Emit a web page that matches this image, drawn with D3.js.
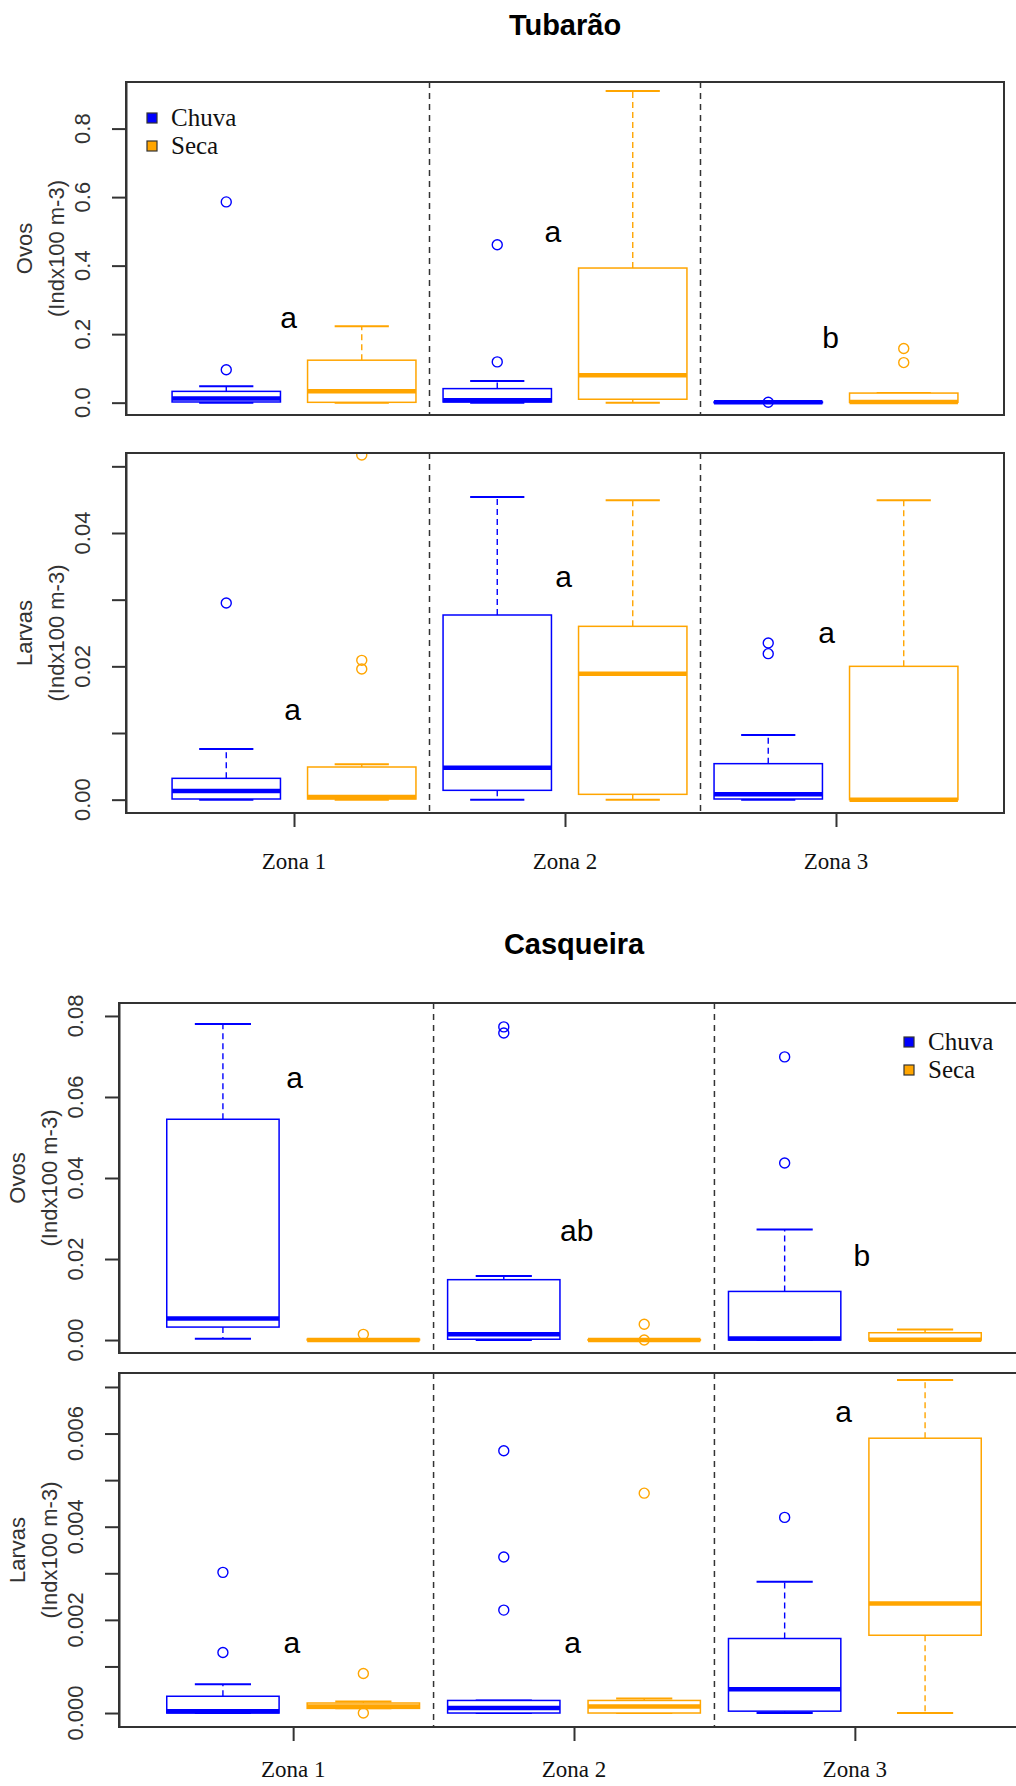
<!DOCTYPE html>
<html>
<head>
<meta charset="utf-8">
<script src="https://cdn.jsdelivr.net/npm/d3@7"></script>
<style>
  body { margin: 0; background: #fff; }
</style>
</head>
<body>
<div id="wrapper"></div>
<script>
// ---- data ----
const zones = ["Zona 1", "Zona 2", "Zona 3"]
const seasons = ["Chuva", "Seca"]
const sites = ["Tubarão", "Casqueira"]
const yTitles = [["Ovos", "(Indx100 m-3)"], ["Larvas", "(Indx100 m-3)"]]

// groups are Chuva Z1, Seca Z1, Chuva Z2, Seca Z2, Chuva Z3, Seca Z3
// each box: [lower whisker, q1, median, q3, upper whisker]
const tubOvosBoxes = [
  [0, 0.002, 0.012, 0.033, 0.048],
  [0, 0.001, 0.033, 0.124, 0.223],
  [0, 0.002, 0.007, 0.041, 0.063],
  [0, 0.010, 0.080, 0.393, 0.910],
  [0, 0, 0.001, 0.002, 0.003],
  [0, 0.001, 0.002, 0.028, 0.028],
]
const tubOvosOut = [[0.096, 0.586], [], [0.119, 0.461], [], [0.001], [0.117, 0.158]]

const tubLarvasBoxes = [
  [0, 0.0001, 0.0013, 0.0032, 0.0076],
  [0, 0.0001, 0.0004, 0.0049, 0.0053],
  [0, 0.0014, 0.0048, 0.0277, 0.0454],
  [0, 0.0008, 0.0189, 0.0260, 0.0449],
  [0, 0.0001, 0.0008, 0.0054, 0.0097],
  [0, 0, 0, 0.0200, 0.0449],
]
const tubLarvasOut = [[0.0295], [0.0196, 0.0209, 0.0517], [], [], [0.0219, 0.0235], []]

const casOvosBoxes = [
  [0.0003, 0.0032, 0.0053, 0.0545, 0.0780],
  [0, 0, 0, 0.0002, 0.0002],
  [0, 0.0002, 0.0014, 0.0149, 0.0158],
  [0, 0, 0, 0.0001, 0.0001],
  [0, 0, 0.0004, 0.0120, 0.0273],
  [0, 0, 0.0001, 0.0018, 0.0026],
]
const casOvosOut = [[], [0.0014], [0.0758, 0.0773], [0, 0.0039], [0.0437, 0.0699], []]

const casLarvasBoxes = [
  [0, 0, 0.00004, 0.00036, 0.00062],
  [0.0001, 0.0001, 0.00014, 0.000215, 0.00025],
  [0, 0, 0.00011, 0.00027, 0.00027],
  [0, 0, 0.00014, 0.00027, 0.00031],
  [0, 0.00004, 0.00051, 0.0016, 0.00282],
  [0, 0.00167, 0.00235, 0.0059, 0.00715],
]
const casLarvasOut = [[0.0013, 0.00302], [0, 0.00085], [0.00221, 0.00335, 0.00563], [0.00472], [0.0042], []]

// axis limits and ticks
const tubOvosLim = [-0.036, 0.936]
const tubLarvasLim = [-0.002, 0.052]
const casOvosLim = [-0.0032, 0.0832]
const casLarvasLim = [-0.0003, 0.0073]

const tubOvosTicks = [0, 0.2, 0.4, 0.6, 0.8]
const tubOvosTickLabels = [0, 0.2, 0.4, 0.6, 0.8]
const tubLarvasTicks = [0, 0.01, 0.02, 0.03, 0.04, 0.05]
const tubLarvasTickLabels = [0, 0.02, 0.04]
const casOvosTicks = [0, 0.02, 0.04, 0.06, 0.08]
const casOvosTickLabels = [0, 0.02, 0.04, 0.06, 0.08]
const casLarvasTicks = [0, 0.001, 0.002, 0.003, 0.004, 0.005, 0.006, 0.007]
const casLarvasTickLabels = [0, 0.002, 0.004, 0.006]

// significance letters: text, x (group position), y (data value of baseline)
const tubOvosLetters = ["a", "a", "b"]
const tubOvosLetterX = [1.46, 3.41, 5.46]
const tubOvosLetterY = [0.217, 0.468, 0.159]
const tubLarvasLetters = ["a", "a", "a"]
const tubLarvasLetterX = [1.49, 3.49, 5.43]
const tubLarvasLetterY = [0.0119, 0.0319, 0.0235]
const casOvosLetters = ["a", "ab", "b"]
const casOvosLetterX = [1.51, 3.52, 5.55]
const casOvosLetterY = [0.0621, 0.0245, 0.0183]
const casLarvasLetters = ["a", "a", "a"]
const casLarvasLetterX = [1.49, 3.49, 5.42]
const casLarvasLetterY = [0.00128, 0.00128, 0.00625]

// ---- styles & layout ----
const colors = { Chuva: "#0000ff", Seca: "#ffa500" }
const sans = "'Liberation Sans', Arial, sans-serif"
const serif = "'Liberation Serif', 'Times New Roman', serif"

const width = 1016
const height = 1786

const panels = [
  { site: 0, kind: 0, left: 126, right: 1004, top: 82, bottom: 415, lim: tubOvosLim,
    boxes: tubOvosBoxes, out: tubOvosOut, ticks: tubOvosTicks, tickLabels: tubOvosTickLabels, fmt: ".1f",
    letters: tubOvosLetters, lx: tubOvosLetterX, ly: tubOvosLetterY, legend: [152, 118], xAxis: false, zoneDy: 56 },
  { site: 0, kind: 1, left: 126, right: 1004, top: 453, bottom: 813, lim: tubLarvasLim,
    boxes: tubLarvasBoxes, out: tubLarvasOut, ticks: tubLarvasTicks, tickLabels: tubLarvasTickLabels, fmt: ".2f",
    letters: tubLarvasLetters, lx: tubLarvasLetterX, ly: tubLarvasLetterY, legend: null, xAxis: true, zoneDy: 56 },
  { site: 1, kind: 0, left: 119, right: 1029, top: 1003, bottom: 1353, lim: casOvosLim,
    boxes: casOvosBoxes, out: casOvosOut, ticks: casOvosTicks, tickLabels: casOvosTickLabels, fmt: ".2f",
    letters: casOvosLetters, lx: casOvosLetterX, ly: casOvosLetterY, legend: [909, 1042], xAxis: false, zoneDy: 56 },
  { site: 1, kind: 1, left: 119, right: 1029, top: 1373, bottom: 1727, lim: casLarvasLim,
    boxes: casLarvasBoxes, out: casLarvasOut, ticks: casLarvasTicks, tickLabels: casLarvasTickLabels, fmt: ".3f",
    letters: casLarvasLetters, lx: casLarvasLetterX, ly: casLarvasLetterY, legend: null, xAxis: true, zoneDy: 50 },
]

const titlePos = [[565, 35], [574, 954]]

const svg = d3.select("#wrapper")
  .append("svg")
  .attr("width", width)
  .attr("height", height)
  .style("display", "block")

svg.append("rect").attr("width", width).attr("height", height).attr("fill", "#fff")

// site titles
svg.selectAll(".site-title")
  .data(sites)
  .join("text")
  .attr("class", "site-title")
  .attr("x", (d, i) => titlePos[i][0])
  .attr("y", (d, i) => titlePos[i][1])
  .attr("text-anchor", "middle")
  .attr("font-family", sans)
  .attr("font-weight", "bold")
  .attr("font-size", 29)
  .attr("fill", "#000")
  .text(d => d)

panels.forEach(drawPanel)

function drawPanel(p, pi) {
  const xScale = d3.scaleLinear().domain([0.26, 6.74]).range([p.left, p.right])
  const yScale = d3.scaleLinear().domain(p.lim).range([p.bottom, p.top])
  const g = svg.append("g")

  const clipId = "clip" + pi
  g.append("clipPath").attr("id", clipId)
    .append("rect")
    .attr("x", p.left).attr("y", p.top)
    .attr("width", p.right - p.left).attr("height", p.bottom - p.top)

  const plot = g.append("g").attr("clip-path", `url(#${clipId})`)

  // zone separators
  plot.selectAll(".sep")
    .data([2.5, 4.5])
    .join("line")
    .attr("x1", d => xScale(d)).attr("x2", d => xScale(d))
    .attr("y1", p.top).attr("y2", p.bottom)
    .attr("stroke", "#333")
    .attr("stroke-width", 1.5)
    .attr("stroke-dasharray", "6,5")

  const groups = p.boxes.map((b, i) => ({
    pos: i + 1,
    season: seasons[i % 2],
    lo: b[0], q1: b[1], med: b[2], q3: b[3], hi: b[4],
    out: p.out[i],
  }))

  const halfBox = 0.4
  const halfStaple = 0.2

  const bg = plot.selectAll(".box")
    .data(groups)
    .join("g")
    .attr("class", "box")
    .attr("stroke", d => colors[d.season])
    .attr("fill", "none")

  // whiskers
  bg.append("line")
    .attr("x1", d => xScale(d.pos)).attr("x2", d => xScale(d.pos))
    .attr("y1", d => yScale(d.q3)).attr("y2", d => yScale(d.hi))
    .attr("stroke-width", 1.4).attr("stroke-dasharray", "6,4")
  bg.append("line")
    .attr("x1", d => xScale(d.pos)).attr("x2", d => xScale(d.pos))
    .attr("y1", d => yScale(d.q1)).attr("y2", d => yScale(d.lo))
    .attr("stroke-width", 1.4).attr("stroke-dasharray", "6,4")
  // staples
  bg.append("line")
    .attr("x1", d => xScale(d.pos - halfStaple)).attr("x2", d => xScale(d.pos + halfStaple))
    .attr("y1", d => yScale(d.hi)).attr("y2", d => yScale(d.hi))
    .attr("stroke-width", 2)
  bg.append("line")
    .attr("x1", d => xScale(d.pos - halfStaple)).attr("x2", d => xScale(d.pos + halfStaple))
    .attr("y1", d => yScale(d.lo)).attr("y2", d => yScale(d.lo))
    .attr("stroke-width", 2)
  // box
  bg.append("rect")
    .attr("x", d => xScale(d.pos - halfBox))
    .attr("width", d => xScale(d.pos + halfBox) - xScale(d.pos - halfBox))
    .attr("y", d => yScale(d.q3))
    .attr("height", d => Math.max(0.5, yScale(d.q1) - yScale(d.q3)))
    .attr("fill", "#fff")
    .attr("stroke-width", 1.5)
  // median
  bg.append("line")
    .attr("x1", d => xScale(d.pos - halfBox)).attr("x2", d => xScale(d.pos + halfBox))
    .attr("y1", d => yScale(d.med)).attr("y2", d => yScale(d.med))
    .attr("stroke-width", 4.5)
  // outliers
  bg.selectAll("circle")
    .data(d => d.out.map(v => ({ pos: d.pos, v })))
    .join("circle")
    .attr("cx", d => xScale(d.pos))
    .attr("cy", d => yScale(d.v))
    .attr("r", 5)
    .attr("stroke-width", 1.4)

  // frame
  g.append("rect")
    .attr("x", p.left).attr("y", p.top)
    .attr("width", p.right - p.left).attr("height", p.bottom - p.top)
    .attr("fill", "none").attr("stroke", "#333").attr("stroke-width", 2)

  // y axis
  const yAxis = d3.axisLeft(yScale)
    .tickValues(p.ticks)
    .tickSizeOuter(0)
    .tickSizeInner(14)
    .tickFormat("")
  const ya = g.append("g")
    .attr("transform", `translate(${p.left},0)`)
    .call(yAxis)
  ya.select(".domain").attr("stroke", "#333").attr("stroke-width", 2)
  ya.selectAll(".tick line").attr("stroke", "#333").attr("stroke-width", 2)

  const fmt = d3.format(p.fmt)
  g.selectAll(".ytl")
    .data(p.tickLabels)
    .join("text")
    .attr("class", "ytl")
    .attr("transform", d => `translate(${p.left - 44},${yScale(d)}) rotate(-90)`)
    .attr("dy", "0.36em")
    .attr("text-anchor", "middle")
    .attr("font-family", sans)
    .attr("font-size", 22)
    .attr("fill", "#333")
    .text(d => fmt(d))

  // y title (two lines)
  const yMid = (p.top + p.bottom) / 2
  g.selectAll(".ytitle")
    .data(yTitles[p.kind])
    .join("text")
    .attr("class", "ytitle")
    .attr("transform", (d, i) => `translate(${p.left - (i === 0 ? 102 : 70)},${yMid}) rotate(-90)`)
    .attr("dy", "0.36em")
    .attr("text-anchor", "middle")
    .attr("font-family", sans)
    .attr("font-size", 22)
    .attr("fill", "#333")
    .text(d => d)

  // significance letters
  g.selectAll(".letter")
    .data(p.letters)
    .join("text")
    .attr("class", "letter")
    .attr("x", (d, i) => xScale(p.lx[i]))
    .attr("y", (d, i) => yScale(p.ly[i]))
    .attr("text-anchor", "middle")
    .attr("font-family", sans)
    .attr("font-size", 30)
    .attr("fill", "#000")
    .text(d => d)

  // x axis with zone labels
  if (p.xAxis) {
    const zonePos = d3.scaleOrdinal().domain(zones).range([1.5, 3.5, 5.5])
    const xAxis = d3.axisBottom(xScale)
      .tickValues(zones.map(z => zonePos(z)))
      .tickSizeOuter(0)
      .tickSizeInner(14)
      .tickFormat("")
    const xa = g.append("g")
      .attr("transform", `translate(0,${p.bottom})`)
      .call(xAxis)
    xa.select(".domain").remove()
    xa.selectAll(".tick line").attr("stroke", "#333").attr("stroke-width", 2)

    g.selectAll(".zone")
      .data(zones)
      .join("text")
      .attr("class", "zone")
      .attr("x", d => xScale(zonePos(d)))
      .attr("y", p.bottom + p.zoneDy)
      .attr("text-anchor", "middle")
      .attr("font-family", serif)
      .attr("font-size", 23)
      .attr("fill", "#111")
      .text(d => d)
  }

  // legend
  if (p.legend) {
    const [lx, ly] = p.legend
    const leg = g.selectAll(".leg")
      .data(seasons)
      .join("g")
      .attr("class", "leg")
      .attr("transform", (d, i) => `translate(${lx},${ly + i * 28})`)
    leg.append("rect")
      .attr("x", -5).attr("y", -5).attr("width", 10).attr("height", 10)
      .attr("fill", d => colors[d]).attr("stroke", "#333").attr("stroke-width", 1.2)
    leg.append("text")
      .attr("x", 19).attr("dy", "0.33em")
      .attr("font-family", serif)
      .attr("font-size", 25)
      .attr("fill", "#111")
      .text(d => d)
  }
}
</script>
</body>
</html>
